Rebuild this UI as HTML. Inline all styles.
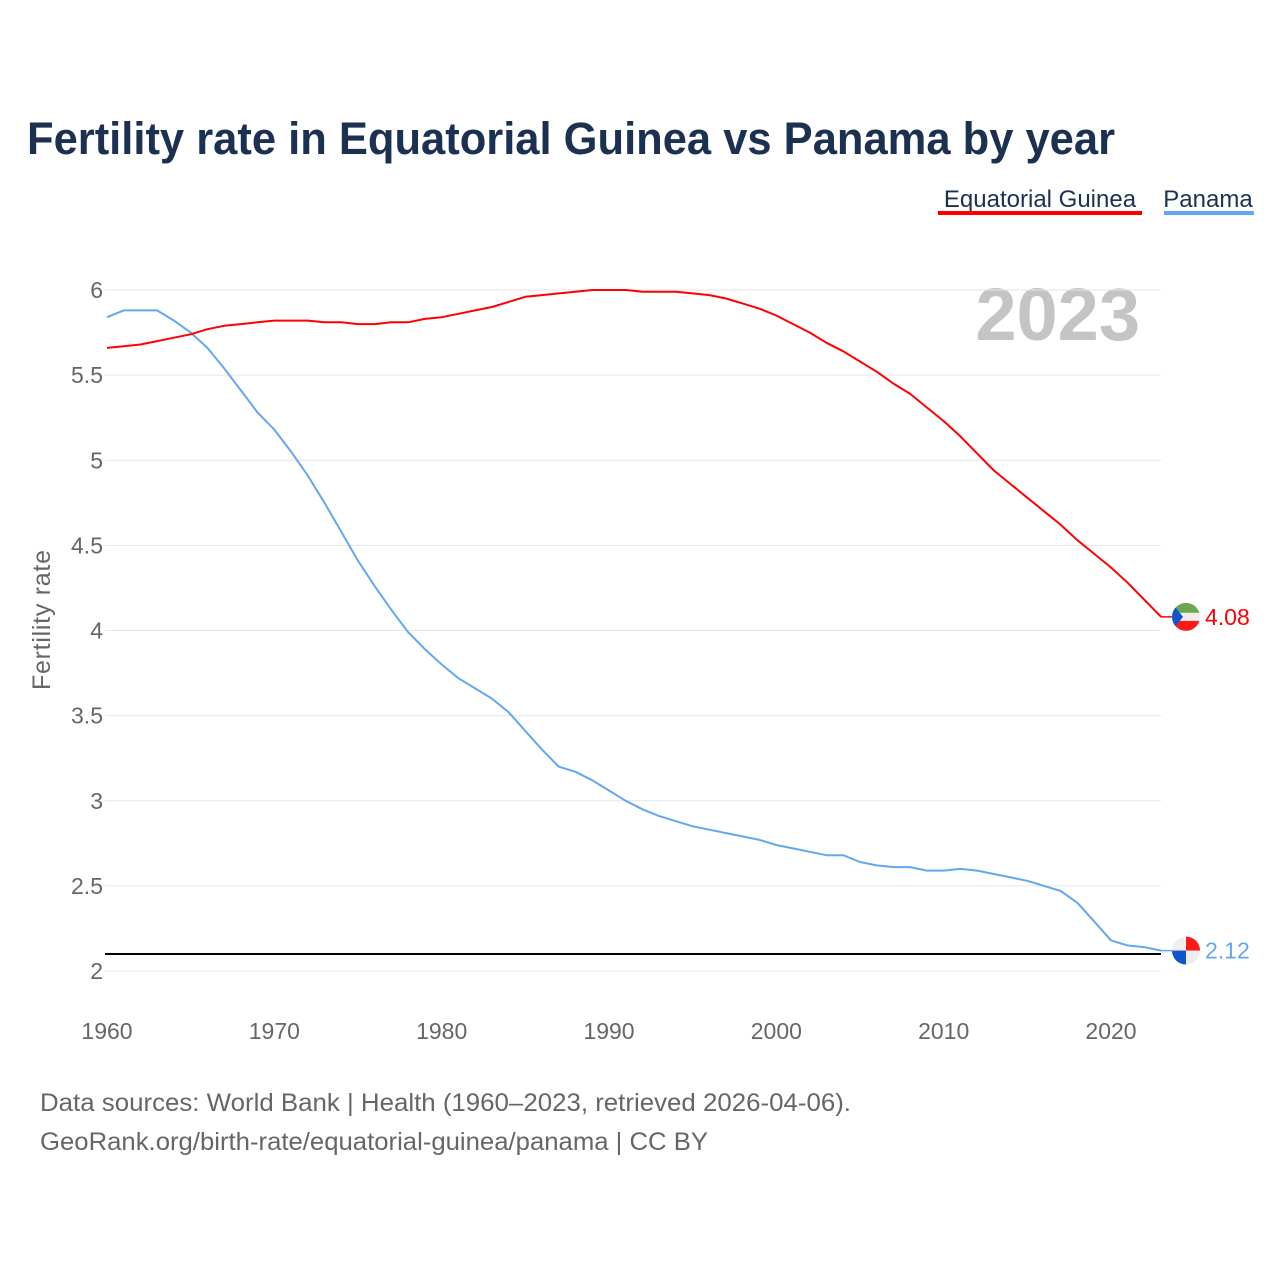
<!DOCTYPE html>
<html><head><meta charset="utf-8"><style>
body{margin:0;background:#fff;font-family:"Liberation Sans",sans-serif;}
</style></head><body>
<svg width="1280" height="1280" xmlns="http://www.w3.org/2000/svg">
<text x="27" y="154" font-size="45" font-weight="bold" fill="#1c3152" textLength="1088" lengthAdjust="spacingAndGlyphs">Fertility rate in Equatorial Guinea vs Panama by year</text>
<g>
<text x="1040" y="207" font-size="24" fill="#1c3152" text-anchor="middle">Equatorial Guinea</text>
<rect x="938" y="211" width="204" height="4" fill="#ff0000"/></g>
<g>
<text x="1208" y="207" font-size="24" fill="#1c3152" text-anchor="middle">Panama</text>
<rect x="1164" y="211" width="90" height="4" fill="#62a8ef"/></g>
<text x="1140" y="340" font-size="74" font-weight="bold" fill="#c4c4c4" text-anchor="end">2023</text>
<text transform="translate(50,620) rotate(-90)" font-size="25" fill="#666" text-anchor="middle" textLength="140">Fertility rate</text>
<g id="grid"></g><g id="xt"></g><g id="lines"></g><g id="ends"></g>
<text x="40" y="1111" font-size="25" fill="#666" textLength="811" lengthAdjust="spacingAndGlyphs">Data sources: World Bank | Health (1960–2023, retrieved 2026-04-06).</text>
<text x="40" y="1150" font-size="25" fill="#666" textLength="668" lengthAdjust="spacingAndGlyphs">GeoRank.org/birth-rate/equatorial-guinea/panama | CC BY</text>
</svg>
<script>
const years=[];for(let y=1960;y<=2023;y++)years.push(y);
const gnq=[5.66,5.67,5.68,5.70,5.72,5.74,5.77,5.79,5.80,5.81,5.82,5.82,5.82,5.81,5.81,5.80,5.80,5.81,5.81,5.83,5.84,5.86,5.88,5.90,5.93,5.96,5.97,5.98,5.99,6.00,6.00,6.00,5.99,5.99,5.99,5.98,5.97,5.95,5.92,5.89,5.85,5.80,5.75,5.69,5.64,5.58,5.52,5.45,5.39,5.31,5.23,5.14,5.04,4.94,4.86,4.78,4.70,4.62,4.53,4.45,4.37,4.28,4.18,4.08];
const pan=[5.84,5.88,5.88,5.88,5.82,5.75,5.66,5.54,5.41,5.28,5.18,5.05,4.91,4.75,4.58,4.41,4.26,4.12,3.99,3.89,3.80,3.72,3.66,3.60,3.52,3.41,3.30,3.20,3.17,3.12,3.06,3.00,2.95,2.91,2.88,2.85,2.83,2.81,2.79,2.77,2.74,2.72,2.70,2.68,2.68,2.64,2.62,2.61,2.61,2.59,2.59,2.60,2.59,2.57,2.55,2.53,2.50,2.47,2.40,2.29,2.18,2.15,2.14,2.12];
const yTicks=[2,2.5,3,3.5,4,4.5,5,5.5,6];
const xTicks=[1960,1970,1980,1990,2000,2010,2020];
const replacement=2.1;
const NS="http://www.w3.org/2000/svg";
const X=y=>107+(y-1960)*(1004/60);
const Y=v=>290+(6-v)*170.25;
function mk(p,t,a){const e=document.createElementNS(NS,t);for(const k in a)e.setAttribute(k,a[k]);p.appendChild(e);return e;}
const grid=document.getElementById('grid');
yTicks.forEach(v=>{
 const l=mk(grid,'line',{x1:105,x2:1161,y1:Y(v),y2:Y(v),stroke:'#e6e6e6','stroke-width':1});
 
 
 const t=mk(grid,'text',{x:103,y:Y(v)+8,'font-size':23,fill:'#666','text-anchor':'end'});t.textContent=v;
 
 
});
const xt=document.getElementById('xt');
xTicks.forEach(y=>{const t=mk(xt,'text',{x:X(y),y:1039,'font-size':23,fill:'#666','text-anchor':'middle'});t.textContent=y;
 
 });
const lines=document.getElementById('lines');
const rl=mk(lines,'line',{x1:105,x2:1161,y1:Y(replacement),y2:Y(replacement),stroke:'#000','stroke-width':2});


function series(d,c,n){const p=mk(lines,'path',{d:d.map((v,i)=>(i?'L':'M')+X(years[i]).toFixed(1)+','+Y(v).toFixed(1)).join(''),fill:'none',stroke:c,'stroke-width':2,'stroke-linejoin':'round'});
 
 }
series(pan,'#62a8ef','line-panama');series(gnq,'#ff0000','line-equatorial-guinea');
const ends=document.getElementById('ends');
function endMark(d,c,n,flag){const v=d[d.length-1],cx=1186,cy=Y(v);
 const g=mk(ends,'g',{});
 
 
 mk(g,'line',{x1:X(2023),x2:cx,y1:cy,y2:cy,stroke:c,'stroke-width':1.5});
 const cp=mk(g,'clipPath',{id:'c'+n});mk(cp,'circle',{cx,cy,r:14});
 const f=mk(g,'g',{'clip-path':'url(#c'+n+')'});flag(f,cx,cy);
 const t=mk(g,'text',{x:1205,y:cy+8,'font-size':23,fill:c});t.textContent=v.toFixed(2);}
endMark(gnq,'#ff0000','end-label-equatorial-guinea',(f,x,y)=>{
 mk(f,'rect',{x:x-14,y:y-14,width:28,height:10,fill:'#6aa84f'});
 mk(f,'rect',{x:x-14,y:y-4,width:28,height:8,fill:'#eee'});
 mk(f,'rect',{x:x-14,y:y+4,width:28,height:10,fill:'#ff1a1a'});
 mk(f,'polygon',{points:`${x-14},${y-14} ${x-3},${y} ${x-14},${y+14}`,fill:'#1155cc'});});
endMark(pan,'#62a8ef','end-label-panama',(f,x,y)=>{
 mk(f,'rect',{x:x-14,y:y-14,width:28,height:28,fill:'#eee'});
 mk(f,'rect',{x:x,y:y-14,width:14,height:14,fill:'#ff1a1a'});
 mk(f,'rect',{x:x-14,y:y,width:14,height:14,fill:'#1155cc'});});
</script>
</body></html>
